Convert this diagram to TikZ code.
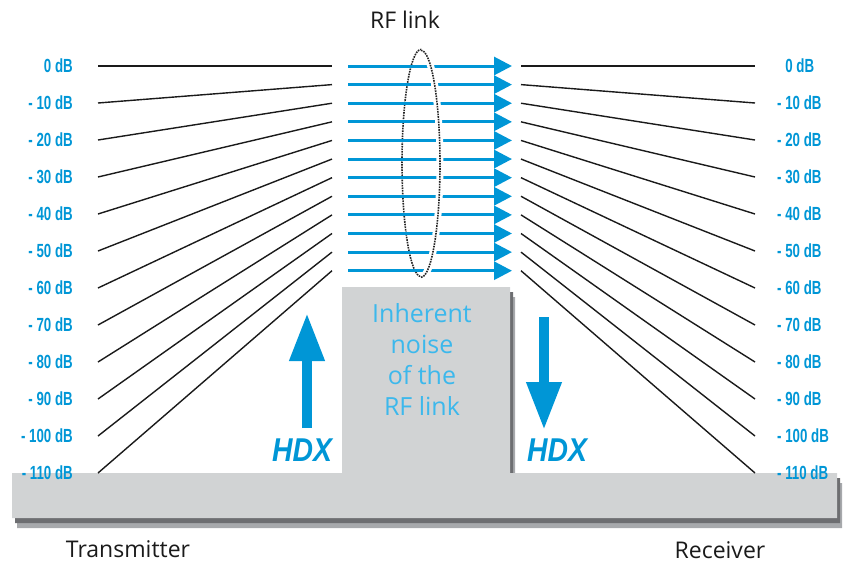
\documentclass[tikz,border=0pt]{standalone}
\usepackage{fontspec}
\setmainfont{Open Sans}
\newfontfamily\dbfont[FakeStretch=0.7]{Liberation Sans Bold}
\newfontfamily\hdxfont[FakeStretch=0.86]{Liberation Sans Bold Italic}
\usetikzlibrary{arrows.meta,shapes.geometric}
\definecolor{RFCanvas}{HTML}{FFFFFF}
\definecolor{RFBlue}{HTML}{0096D6}
\definecolor{RFSky}{HTML}{3CB8EC}
\definecolor{RFGray}{HTML}{D1D3D4}
\definecolor{RFShade}{HTML}{6D6E71}
\definecolor{RFShadeSoft}{HTML}{A7A9AC}
\definecolor{RFInk}{HTML}{1A1A1A}
\definecolor{RFDots}{HTML}{262626}
\tikzset{
  level/.style={RFInk,line width=1.4pt},
  link/.style={-{Triangle[length=18pt,width=18pt]},RFBlue,line width=3pt},
  hdx/.style={-{Triangle[length=48pt,width=33pt]},RFBlue,line width=10pt},
  ringline/.style={draw=RFDots,densely dotted,line width=1.6pt},
  ring/.style={ringline,ellipse,inner sep=0pt},
  halo/.style={RFCanvas,line width=7pt},
  dblabel/.style={text=RFBlue,inner sep=0pt,
                  font=\dbfont\fontsize{19}{22}\selectfont},
  hdxlabel/.style={text=RFBlue,inner sep=0pt,
                   font=\hdxfont\fontsize{33}{36}\selectfont},
  caption/.style={text=RFInk,inner sep=0pt,font=\fontsize{23}{27}\selectfont},
  noisetext/.style={text=RFSky,inner sep=0pt,align=center,
                    font=\fontsize{25}{31}\selectfont},
}

\begin{document}
\begin{tikzpicture}[x=1pt,y=-1pt]
    \useasboundingbox (0,0) rectangle (849,563);

    % ------------------------------------------------------------ noise floor block
    \fill[RFShadeSoft,shift={(5,10)}]
      (12,473) -- (342,473) -- (342,287) -- (510,287) -- (510,473)
      -- (837,473) -- (837,518) -- (12,518) -- cycle;
    \fill[RFShade,shift={(3,5)}]
      (12,473) -- (342,473) -- (342,287) -- (510,287) -- (510,473)
      -- (837,473) -- (837,518) -- (12,518) -- cycle;
    \fill[RFGray]
      (12,473) -- (342,473) -- (342,287) -- (510,287) -- (510,473)
      -- (837,473) -- (837,518) -- (12,518) -- cycle;

    % ------------------------------------------------------------------ RF link ring
    \node[ring,minimum width=38pt,minimum height=227pt] (ring) at (421,163) {};

    % --------------------------------------------------------- levels and the link
    \foreach \i in {0,...,11}{
      \pgfmathsetmacro\lo{66+37*\i}
      \pgfmathsetmacro\hi{66+18.61*\i}
      \coordinate (txlev\i)   at (98,\lo);
      \coordinate (txend\i)   at (332,\hi);
      \coordinate (linkin\i)  at (348,\hi);
      \coordinate (linkout\i) at (512,\hi);
      \coordinate (rxend\i)   at (521,\hi);
      \coordinate (rxlev\i)   at (755,\lo);
      \draw[level] (txlev\i) -- (txend\i);
      \draw[link]  (linkin\i) -- (linkout\i);
      \draw[level] (rxend\i) -- (rxlev\i);
    }

    % front half of the ring passes over the link
    \draw[halo] (ring.south) arc[start angle=90,end angle=-90,x radius=19,y radius=113.5];
    \draw[ringline]
      (ring.south) arc[start angle=90,end angle=-90,x radius=19,y radius=113.5];

    % ------------------------------------------------------------------ dB scales
    \foreach \i/\db in {0/0,1/10,2/20,3/30,4/40,5/50,6/60,7/70,8/80,9/90,10/100,11/110}{
      \pgfmathsetmacro\lo{66+37*\i}
      \ifnum\i=0 \def\sign{}\else \def\sign{- }\fi
      \node[dblabel,anchor=east] (txdb\i) at (73,\lo)  {\sign\db\ dB};
      \node[dblabel,anchor=west] (rxdb\i) at (777,\lo) {\ifnum\i=0 \hphantom{- }\fi\sign\db\ dB};
    }

    % ----------------------------------------------------------------- HDX arrows
    \coordinate (txfoot) at (307,428);
    \coordinate (txtip)  at (307,313);
    \coordinate (rxtop)  at (544,317);
    \coordinate (rxtip)  at (544,430);
    \draw[hdx] (txfoot) -- (txtip);
    \draw[hdx] (rxtop) -- (rxtip);
    \node[hdxlabel] (txhdx) at (302,450) {HDX};
    \node[hdxlabel] (rxhdx) at (557,450) {HDX};

    % ---------------------------------------------------------------------- texts
    \node[noisetext] (noise)  at (422,359) {Inherent\\noise\\of the\\RF link};
    \node[caption]   (rflink) at (405,20)  {RF link};
    \node[caption]   (tx)     at (128,549) {Transmitter};
    \node[caption]   (rx)     at (720,550) {Receiver};
  \end{tikzpicture}
\end{document}
